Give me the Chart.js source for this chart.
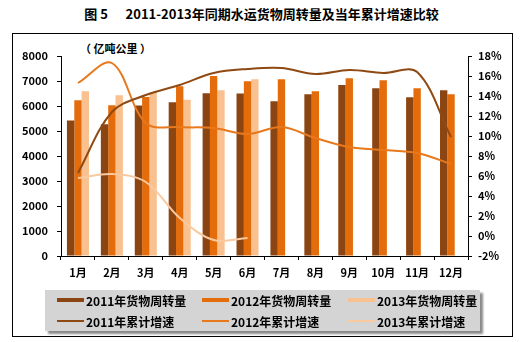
<!DOCTYPE html>
<html><head><meta charset="utf-8">
<script src="https://cdn.jsdelivr.net/npm/chart.js@4/dist/chart.umd.min.js"></script>
<style>
html,body{margin:0;padding:0;background:#fff;width:523px;height:342px;overflow:hidden;}
body{position:relative;font-family:"Noto Sans CJK SC","DejaVu Sans",sans-serif;}
#frame{position:absolute;left:12px;top:33px;width:501px;height:304px;box-sizing:border-box;border:1px solid #000;}
#title{position:absolute;left:0;top:5px;width:523px;text-align:center;font-weight:bold;font-size:13px;line-height:18px;color:#000;white-space:pre;}
#unit{position:absolute;left:80px;top:40px;font-weight:bold;font-size:11px;line-height:16px;color:#000;}
#c{position:absolute;left:0;top:0;}
#legend{position:absolute;left:45px;top:290px;width:435px;height:41px;background:#D4D4D4;box-shadow:3px 3px 2px #8a8a8a;}
.li{position:absolute;height:16px;display:flex;align-items:center;font-weight:bold;font-size:12px;color:#000;white-space:nowrap;}
.sw{width:27px;margin-right:2px;}
</style></head>
<body>
<div id="frame"></div>
<div id="title"></div>
<div id="unit">（ 亿吨公里 ）</div>
<canvas id="c" width="523" height="342"></canvas>
<div id="legend"></div>
<script>
const chartTitle = '图 5      2011-2013年同期水运货物周转量及当年累计增速比较';
const months = ['1月','2月','3月','4月','5月','6月','7月','8月','9月','10月','11月','12月'];
const vol2011 = [5420,5270,6020,6150,6510,6500,6190,6470,6840,6710,6350,6630];
const vol2012 = [6230,6030,6360,6790,7200,6990,7070,6590,7110,7030,6710,6470];
const vol2013 = [6590,6430,6550,6250,6630,7070,null,null,null,null,null,null];
const g2011 = [6.3,12.4,14.1,15.1,16.3,16.7,16.8,16.2,16.6,16.3,16.4,9.9];
const g2012 = [15.3,17.3,11.3,10.9,10.8,10.2,10.9,9.8,8.9,8.6,8.3,7.2];
const g2013 = [5.8,6.2,5.4,1.8,-0.4,-0.2,null,null,null,null,null,null];
const seriesLabels = ['2011年货物周转量','2012年货物周转量','2013年货物周转量','2011年累计增速','2012年累计增速','2013年累计增速'];

document.getElementById('title').textContent = chartTitle;

const font = {family:'"Noto Sans CJK SC","DejaVu Sans",sans-serif', size:11, weight:'bold'};
const barColors = ['#8B4513','#E46C0A','#F9C18F'];
const lineColors = ['#8F4A14','#E8781C','#F9C9A0'];

const barCommon = {type:'bar', yAxisID:'y', order:1, categoryPercentage:0.65, barPercentage:1.0, borderWidth:0};
const lineCommon = {type:'line', yAxisID:'y1', order:0, pointRadius:0, borderWidth:2, tension:0.35, fill:false, spanGaps:false};

const datasets = [
  Object.assign({label:seriesLabels[0], data:vol2011, backgroundColor:barColors[0]}, barCommon),
  Object.assign({label:seriesLabels[1], data:vol2012, backgroundColor:barColors[1]}, barCommon),
  Object.assign({label:seriesLabels[2], data:vol2013, backgroundColor:barColors[2]}, barCommon),
  Object.assign({label:seriesLabels[3], data:g2011, borderColor:lineColors[0]}, lineCommon),
  Object.assign({label:seriesLabels[4], data:g2012, borderColor:lineColors[1]}, lineCommon),
  Object.assign({label:seriesLabels[5], data:g2013, borderColor:lineColors[2]}, lineCommon)
];

new Chart(document.getElementById('c'), {
  data:{labels:months, datasets:datasets},
  options:{
    responsive:false, animation:false, events:[],
    layout:{padding:{left:12,right:11,top:56,bottom:56}},
    plugins:{legend:{display:false}, tooltip:{enabled:false}, title:{display:false}},
    scales:{
      x:{offset:true,
         grid:{display:true,drawOnChartArea:false,color:'#000',tickLength:4,offset:true},
         border:{display:true,color:'#000',width:1},
         ticks:{font:font,color:'#000',padding:6,maxRotation:0,autoSkip:false},
         afterFit(s){s.height=30;}},
      y:{position:'left',min:0,max:8000,
         ticks:{stepSize:1000,font:font,color:'#000',padding:9,callback:v=>String(v)},
         grid:{display:true,drawOnChartArea:false,color:'#000',tickLength:4},
         border:{display:true,color:'#000',width:1},
         afterFit(s){s.width=49;}},
      y1:{position:'right',min:-2,max:18,
         ticks:{stepSize:2,font:font,color:'#000',padding:6,callback:v=>v+'%'},
         grid:{display:true,drawOnChartArea:false,color:'#000',tickLength:4},
         border:{display:true,color:'#000',width:1},
         afterFit(s){s.width=44;}}
    }
  }
});

// HTML legend built from the datasets
const lg = document.getElementById('legend');
const colX = [12,157,303];
const rowY = [2,23];
datasets.forEach((d,i)=>{
  const col = i%3, row = Math.floor(i/3);
  const el = document.createElement('div');
  el.className='li';
  el.style.left = colX[col]+'px';
  el.style.top = rowY[row]+'px';
  const sw = document.createElement('span');
  sw.className='sw';
  if(d.type==='bar'){ sw.style.height='4px'; sw.style.background=d.backgroundColor; }
  else { sw.style.height='2px'; sw.style.background=d.borderColor; }
  el.appendChild(sw);
  const t = document.createElement('span');
  t.textContent = d.label;
  el.appendChild(t);
  lg.appendChild(el);
});
</script>
</body></html>
